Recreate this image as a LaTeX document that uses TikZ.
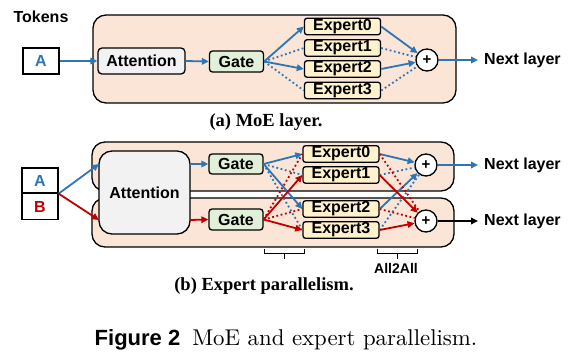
\documentclass[tikz,border=0pt]{standalone}
\usepackage{fontspec}
\setsansfont{Liberation Sans}
\newfontfamily\serifcap{Liberation Serif}
\newfontfamily\romanten{lmroman10-regular.otf}
\usetikzlibrary{arrows.meta}
\definecolor{moeblue}{HTML}{2E75B6}
\definecolor{moered}{HTML}{C00000}
\definecolor{bandfill}{HTML}{FBE5D6}
\definecolor{attfill}{HTML}{F2F2F2}
\definecolor{gatefill}{HTML}{E2F0D9}
\definecolor{expfill}{HTML}{FFF2CC}

\begin{document}
\begin{tikzpicture}[x=1pt,y=-1pt,
  lbl/.style={font=\sffamily\bfseries\fontsize{16}{18}\selectfont},
  box/.style={draw=black, line width=1.3pt, inner sep=0pt, lbl},
  band/.style={draw=black, line width=1.3pt, fill=bandfill, rounded corners=13pt},
  attbox/.style={box, fill=attfill, rounded corners=4pt},
  gatebox/.style={box, fill=gatefill, rounded corners=3pt, minimum width=54pt, minimum height=21pt},
  expbox/.style={box, fill=expfill, rounded corners=2.5pt, minimum width=76pt, minimum height=16.5pt},
  plusnode/.style={draw=black, line width=1.3pt, fill=white, circle, minimum size=22pt, inner sep=0pt,
                   font=\sffamily\bfseries\fontsize{15}{15}\selectfont},
  tokbox/.style={box, fill=white, minimum width=36pt},
  flow/.style={line width=1.8pt, -{Triangle[length=7pt,width=6.5pt]}},
  dots/.style={line width=1.8pt, dash pattern=on 1.8pt off 2.6pt},
  subcaption/.style={font=\serifcap\bfseries\fontsize{18.5}{20}\selectfont},
]
\useasboundingbox (0,0) rectangle (568,358);

% ---------------- (a) MoE layer ----------------
\node[lbl] (tokens) at (41,17) {Tokens};
\node[tokbox, minimum height=26pt, text=moeblue] (tokA) at (41,61) {A};

\draw[band] (93,15) rectangle (456,103);

\node[attbox, minimum width=87pt, minimum height=26pt] (attA) at (141.5,61) {Attention};
\node[gatebox] (gateA) at (236.5,61.5) {Gate};

\node[expbox] (eA0) at (342.5,26.5) {Expert0};
\node[expbox] (eA1) at (342.5,48) {Expert1};
\node[expbox] (eA2) at (342.5,69) {Expert2};
\node[expbox] (eA3) at (342.5,90.5) {Expert3};

\node[plusnode] (plusA) at (427,60) {+};
\node[lbl, anchor=west, inner sep=0pt] (nextA) at (484,60) {Next layer};

\draw[flow, moeblue] (tokA.east) -- (attA.west);
\draw[flow, moeblue] (attA.east) -- (gateA.west);

\draw[flow, moeblue] (gateA.east) -- (eA0.west);
\draw[dots, moeblue] (gateA.east) -- (eA1.west);
\draw[flow, moeblue] (gateA.east) -- (eA2.west);
\draw[dots, moeblue] (gateA.east) -- (eA3.west);

\draw[flow, moeblue] (eA0.east) -- (plusA);
\draw[dots, moeblue] (eA1.east) -- (plusA);
\draw[flow, moeblue] (eA2.east) -- (plusA);
\draw[dots, moeblue] (eA3.east) -- (plusA);

\draw[flow, moeblue, shorten >=6pt] (plusA.east) -- (nextA.west);

\node[subcaption] (capA) at (266,122) {(a) MoE layer.};

% ---------------- (b) Expert parallelism ----------------
\node[tokbox, minimum height=25pt, text=moeblue] (tokB1) at (40,180.5) {A};
\node[tokbox, minimum height=26pt, text=moered] (tokB2) at (40,206.5) {B};

\draw[band] (92,142) rectangle (454,191);
\draw[band] (92,198) rectangle (454,247);

\node[box, fill=attfill, rounded corners=13pt, minimum width=91pt, minimum height=83pt] (attB) at (144.5,192.5) {Attention};

\coordinate (attInA)  at (99,164);
\coordinate (attInB)  at (99,220);
\coordinate (attOutA) at (190,164);
\coordinate (attOutB) at (190,220);

\node[gatebox, minimum height=20pt] (gateT) at (236,164) {Gate};
\node[gatebox] (gateB) at (236,219.5) {Gate};

\node[expbox] (eB0) at (341,154) {Expert0};
\node[expbox] (eB1) at (341,175) {Expert1};
\node[expbox] (eB2) at (341,209) {Expert2};
\node[expbox] (eB3) at (341,230) {Expert3};

\node[plusnode] (plusT) at (426,165) {+};
\node[plusnode] (plusB) at (426,221) {+};
\node[lbl, anchor=west, inner sep=0pt] (nextT) at (484,165) {Next layer};
\node[lbl, anchor=west, inner sep=0pt] (nextB) at (484,221) {Next layer};

\draw[flow, moeblue] (tokB1.south east) -- (attInA);
\draw[flow, moered]  (tokB1.south east) -- (attInB);
\draw[flow, moeblue] (attOutA) -- (gateT.west);
\draw[flow, moered]  (attOutB) -- (gateB.west);

% gate -> experts
\draw[flow, moeblue] (gateT.east) -- (eB0.west);
\draw[dots, moeblue] (gateT.east) -- (eB1.west);
\draw[flow, moeblue] (gateT.east) -- (eB2.west);
\draw[dots, moeblue] (gateT.east) -- (eB3.west);

\draw[dots, moered] (gateB.east) -- (eB0.west);
\draw[flow, moered] (gateB.east) -- (eB1.west);
\draw[dots, moered] (gateB.east) -- (eB2.west);
\draw[flow, moered] (gateB.east) -- (eB3.west);

% experts -> combine
\draw[flow, moeblue] (eB0.east) -- (plusT);
\draw[dots, moeblue] (eB1.east) -- (plusT);
\draw[flow, moeblue] (eB2.east) -- (plusT);
\draw[dots, moeblue] (eB3.east) -- (plusT);

\draw[dots, moered] (eB0.east) -- (plusB);
\draw[flow, moered] (eB1.east) -- (plusB);
\draw[dots, moered] (eB2.east) -- (plusB);
\draw[flow, moered] (eB3.east) -- (plusB);

\draw[flow, moeblue, shorten >=6pt] (plusT.east) -- (nextT.west);
\draw[flow, black, shorten >=6pt] (plusB.east) -- (nextB.west);

% communication brackets
\draw[line width=1pt] (264,249) -- (264,254) -- (304,254) -- (304,249);
\draw[line width=1pt] (284,254) -- (284,259);
\draw[line width=1pt] (377,249) -- (377,254) -- (417,254) -- (417,249);
\draw[line width=1pt] (397,254) -- (397,259);
\node[font=\sffamily\bfseries\fontsize{14}{16}\selectfont] (all2all) at (396,268) {All2All};

\node[subcaption] (capB) at (264,286) {(b) Expert parallelism.};

% figure caption
\node[inner sep=0pt] (figcap) at (286,340)
  {{\sffamily\bfseries\fontsize{22}{24}\selectfont Figure 2}\hspace{12pt}{\romanten\fontsize{22.8}{24}\selectfont MoE and expert parallelism.}};
\end{tikzpicture}
\end{document}
